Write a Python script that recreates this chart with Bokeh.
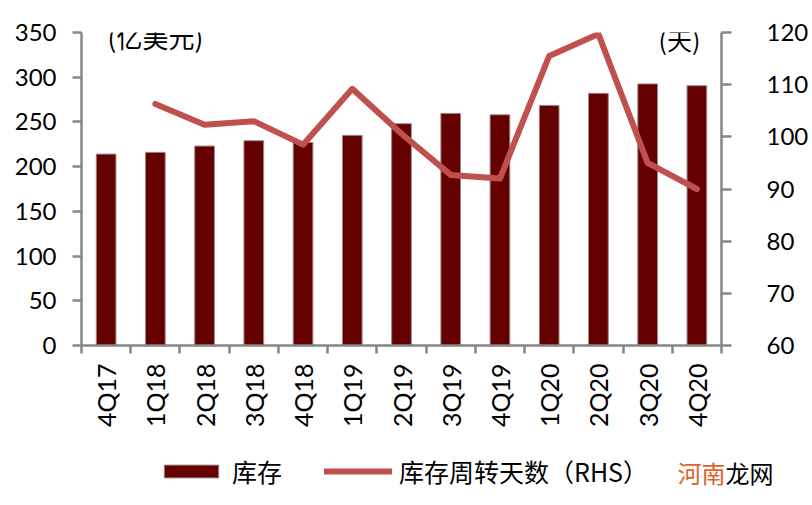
import math
from bokeh.plotting import figure
from bokeh.layouts import column
from bokeh.models import (Range1d, LinearAxis, FixedTicker, Legend, LegendItem, Label,
                          ColumnDataSource)
from bokeh.embed import file_html
from bokeh.resources import INLINE

categories = ["4Q17", "1Q18", "2Q18", "3Q18", "4Q18", "1Q19", "2Q19", "3Q19",
              "4Q19", "1Q20", "2Q20", "3Q20", "4Q20"]
inventory = [214, 216, 223, 229, 227, 235, 248, 259.5, 258, 268.5, 282, 292.5, 290.5]
turnover_days = [None, 106.3, 102.3, 103.0, 98.5, 109.2, 100.6, 92.7, 92.0,
                 115.5, 119.7, 95.0, 90.0]
left_ticks = [0, 50, 100, 150, 200, 250, 300, 350]
right_ticks = [60, 70, 80, 90, 100, 110, 120]
series_names = ["库存", "库存周转天数（RHS）"]

FONT = "Lato"
CJK = "Noto Sans CJK SC"
GRAY = "#868686"
BAR_COLOR = "#640000"
BAR_EDGE = "#9a8a8a"
LINE_COLOR = "#C0504D"
NAN = float("nan")

xs = list(range(len(categories)))
bar_src = ColumnDataSource(dict(x=xs, top=inventory))
lx = [x for x, v in zip(xs, turnover_days) if v is not None]
ly = [v for v in turnover_days if v is not None]
line_src = ColumnDataSource(dict(x=lx, y=ly))

p = figure(width=796, height=440, output_backend="svg", toolbar_location=None,
           x_range=Range1d(-0.5, len(categories) - 0.5),
           y_range=Range1d(left_ticks[0], left_ticks[-1]),
           min_border_left=81, min_border_right=75, min_border_top=32, min_border_bottom=95,
           frame_width=640, frame_height=313)
p.frame_align = False
p.extra_y_ranges = {"right": Range1d(right_ticks[0], right_ticks[-1])}
p.outline_line_color = None
p.xgrid.visible = False
p.ygrid.visible = False
p.background_fill_color = "white"
p.border_fill_color = "white"

p.vbar(x="x", top="top", width=0.4, source=bar_src, fill_color=BAR_COLOR,
       line_color=BAR_EDGE, line_width=1)
p.line(x="x", y="y", source=line_src, y_range_name="right", line_color=LINE_COLOR,
       line_width=6, line_join="round", line_cap="round")

# x axis
xa = p.xaxis[0]
xa.ticker = FixedTicker(ticks=xs, minor_ticks=[i - 0.5 for i in range(len(categories) + 1)])
xa.major_label_overrides = {i: c for i, c in enumerate(categories)}
xa.major_label_orientation = math.pi / 2
xa.major_tick_out = 0
xa.major_tick_in = 0
xa.minor_tick_out = 8
xa.minor_tick_in = 0
xa.minor_tick_line_color = GRAY
xa.minor_tick_line_width = 2.5
xa.axis_line_color = GRAY
xa.axis_line_width = 2.5
xa.major_label_standoff = 10
xa.major_label_text_font = FONT
xa.major_label_text_font_size = "25px"
xa.major_label_text_color = "black"

# left axis
ya = p.yaxis[0]
ya.ticker = FixedTicker(ticks=left_ticks)
ya.minor_tick_line_color = None
ya.major_tick_out = 9
ya.major_tick_in = 0
ya.major_tick_line_color = GRAY
ya.major_tick_line_width = 2.5
ya.axis_line_color = GRAY
ya.axis_line_width = 2.5
ya.major_label_standoff = 16
ya.major_label_text_font = FONT
ya.major_label_text_font_size = "24px"
ya.major_label_text_color = "black"

# right axis
ra = LinearAxis(y_range_name="right", ticker=FixedTicker(ticks=right_ticks))
ra.minor_tick_line_color = None
ra.major_tick_out = 10
ra.major_tick_in = 0
ra.major_tick_line_color = GRAY
ra.major_tick_line_width = 2.5
ra.axis_line_color = GRAY
ra.axis_line_width = 2.5
ra.major_label_standoff = 35
ra.major_label_text_font = FONT
ra.major_label_text_font_size = "24px"
ra.major_label_text_color = "black"
p.add_layout(ra, "right")

# unit labels
p.add_layout(Label(x=0.03, y=345, text="(亿美元)", text_font=CJK, text_font_size="26px",
                   text_baseline="middle", text_align="left", text_color="black"))
p.add_layout(Label(x=11.22, y=118.8, y_range_name="right", text="(天)", text_font=CJK,
                   text_font_size="25px", text_baseline="middle", text_align="left",
                   text_color="black"))

# legend strip: second figure with swatch renderers styled like the series
p2 = figure(width=796, height=49, output_backend="svg", toolbar_location=None,
            x_range=Range1d(0, 796), y_range=Range1d(0, 49),
            x_axis_type=None, y_axis_type=None, min_border=0)
p2.frame_align = False
p2.outline_line_color = None
p2.xgrid.visible = False
p2.ygrid.visible = False
p2.border_fill_color = "white"
p2.background_fill_color = "white"
lb = p2.vbar(x="x", top="top", width=0.4, source=ColumnDataSource(dict(x=[NAN], top=[NAN])),
             fill_color=BAR_COLOR, line_color=BAR_EDGE, line_width=1)
ll = p2.line(x="x", y="y", source=ColumnDataSource(dict(x=[NAN], y=[NAN])),
             line_color=LINE_COLOR, line_width=6, line_cap="round")

legend = Legend(items=[LegendItem(label=series_names[0], renderers=[lb]),
                       LegendItem(label=series_names[1], renderers=[ll])],
                orientation="horizontal", location=(157, 0),
                glyph_width=68, glyph_height=16, label_standoff=7, spacing=42,
                padding=0, margin=0, border_line_alpha=0, background_fill_alpha=0,
                label_text_font=CJK, label_text_font_size="25px", label_text_color="black")
p2.add_layout(legend, "center")

p2.add_layout(Label(x=677, y=17, text="河南", text_font=CJK, text_font_size="24px",
                    text_baseline="middle", text_align="left", text_color="#E3622A"))
p2.add_layout(Label(x=725, y=17, text="龙网", text_font=CJK, text_font_size="24px",
                    text_baseline="middle", text_align="left", text_color="black"))

layout = column(p, p2, spacing=0)
open("out.html", "w").write(file_html(layout, INLINE))
